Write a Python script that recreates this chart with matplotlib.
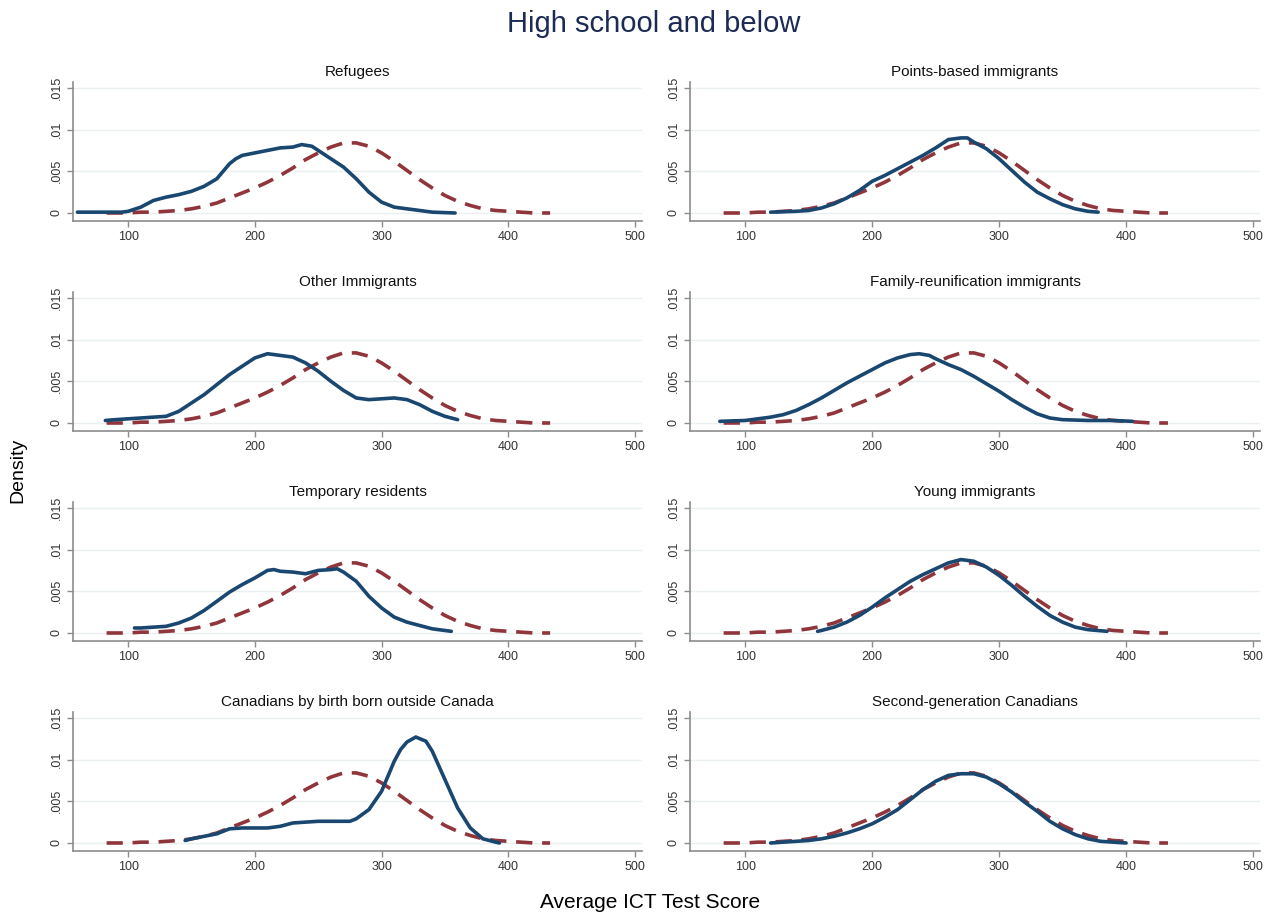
import numpy as np
import matplotlib
matplotlib.use("Agg")
import matplotlib.pyplot as plt

plt.rcParams['font.family'] = ['Liberation Sans Narrow', 'Liberation Sans', 'DejaVu Sans']

# reference curve (dashed red), same in every panel
ref_x = [83, 90, 100, 110, 120, 130, 140, 150, 160, 170, 180, 190, 200, 210, 220, 230, 240,
         250, 260, 270, 280, 290, 300, 310, 320, 330, 340, 350, 360, 370, 380, 390, 400,
         410, 420, 433]
ref_y = [0.0000, 0.0000, 0.0000, 0.0001, 0.0001, 0.0002, 0.0003, 0.0005, 0.0008, 0.0012,
         0.0018, 0.0024, 0.0030, 0.0037, 0.0045, 0.0054, 0.0064, 0.0072, 0.0079, 0.0084,
         0.0084, 0.0080, 0.0072, 0.0062, 0.0051, 0.0040, 0.0030, 0.0021, 0.0014, 0.0009,
         0.0005, 0.0003, 0.0002, 0.0001, 0.0000, 0.0000]

titles = ["Refugees", "Points-based immigrants", "Other Immigrants",
          "Family-reunification immigrants", "Temporary residents", "Young immigrants",
          "Canadians by birth born outside Canada", "Second-generation Canadians"]

refugees_x = [60, 80, 95, 100, 110, 120, 130, 140, 150, 160, 170, 180, 185, 190, 200, 210,
              220, 230, 237, 245, 250, 260, 270, 280, 290, 300, 310, 320, 330, 340, 358]
refugees_y = [0.0001, 0.0001, 0.0001, 0.0002, 0.0007, 0.0015, 0.0019, 0.0022, 0.0026,
              0.0032, 0.0041, 0.0059, 0.0065, 0.0069, 0.0072, 0.0075, 0.0078, 0.0079,
              0.0082, 0.0080, 0.0075, 0.0065, 0.0055, 0.0041, 0.0025, 0.0013, 0.0007,
              0.0005, 0.0003, 0.0001, 0.0000]

points_x = [120, 140, 150, 160, 170, 180, 190, 200, 210, 220, 230, 240, 250, 260, 270, 275,
            280, 290, 300, 310, 320, 330, 340, 350, 360, 370, 378]
points_y = [0.0001, 0.0002, 0.0003, 0.0006, 0.0011, 0.0018, 0.0027, 0.0038, 0.0045, 0.0053,
            0.0061, 0.0069, 0.0078, 0.0088, 0.0090, 0.0090, 0.0085, 0.0077, 0.0065, 0.0051,
            0.0037, 0.0025, 0.0017, 0.0010, 0.0005, 0.0002, 0.0001]

other_x = [82, 90, 100, 110, 120, 130, 140, 150, 160, 170, 180, 190, 200, 210, 220, 230,
           240, 250, 260, 270, 280, 290, 300, 310, 320, 330, 340, 350, 360]
other_y = [0.0003, 0.0004, 0.0005, 0.0006, 0.0007, 0.0008, 0.0014, 0.0024, 0.0034, 0.0046,
           0.0058, 0.0068, 0.0078, 0.0083, 0.0081, 0.0079, 0.0072, 0.0062, 0.0050, 0.0039,
           0.0030, 0.0028, 0.0029, 0.0030, 0.0028, 0.0022, 0.0014, 0.0008, 0.0004]

family_x = [80, 100, 110, 120, 130, 140, 150, 160, 170, 180, 190, 200, 210, 220, 230, 237,
            245, 250, 260, 270, 280, 290, 300, 310, 320, 330, 340, 350, 370, 390, 405]
family_y = [0.0002, 0.0003, 0.0005, 0.0007, 0.0010, 0.0015, 0.0022, 0.0030, 0.0039, 0.0048,
            0.0056, 0.0064, 0.0072, 0.0078, 0.0082, 0.0083, 0.0081, 0.0077, 0.0070, 0.0064,
            0.0056, 0.0047, 0.0038, 0.0028, 0.0019, 0.0011, 0.0006, 0.0004, 0.0003, 0.0003,
            0.0002]

temp_x = [105, 110, 120, 130, 140, 150, 160, 170, 180, 190, 200, 210, 215, 220, 230, 240,
          250, 260, 265, 270, 280, 290, 300, 310, 320, 330, 340, 355]
temp_y = [0.0006, 0.0006, 0.0007, 0.0008, 0.0012, 0.0018, 0.0027, 0.0038, 0.0049, 0.0058,
          0.0066, 0.0075, 0.0076, 0.0074, 0.0073, 0.0071, 0.0075, 0.0076, 0.0077, 0.0073,
          0.0062, 0.0044, 0.0030, 0.0019, 0.0013, 0.0009, 0.0005, 0.0002]

young_x = [157, 160, 170, 180, 190, 200, 210, 220, 230, 240, 250, 260, 270, 280, 290, 300,
           310, 320, 330, 340, 350, 360, 370, 385]
young_y = [0.0002, 0.0003, 0.0007, 0.0013, 0.0021, 0.0031, 0.0042, 0.0052, 0.0062, 0.0070,
           0.0077, 0.0084, 0.0088, 0.0086, 0.0079, 0.0069, 0.0057, 0.0044, 0.0032, 0.0021,
           0.0013, 0.0007, 0.0004, 0.0002]

outside_x = [145, 150, 160, 170, 180, 190, 200, 210, 220, 230, 240, 250, 260, 270, 275, 280,
             290, 300, 305, 310, 315, 320, 327, 335, 340, 350, 360, 370, 380, 390, 393]
outside_y = [0.0003, 0.0005, 0.0008, 0.0011, 0.0017, 0.0018, 0.0018, 0.0018, 0.0020, 0.0024,
             0.0025, 0.0026, 0.0026, 0.0026, 0.0026, 0.0029, 0.0040, 0.0062, 0.0080, 0.0098,
             0.0112, 0.0121, 0.0127, 0.0122, 0.0110, 0.0076, 0.0042, 0.0018, 0.0005, 0.0001,
             0.0000]

second_x = [120, 130, 140, 150, 160, 170, 180, 190, 200, 210, 220, 230, 240, 250, 260, 270,
            280, 290, 300, 310, 320, 330, 340, 350, 360, 370, 380, 390, 400]
second_y = [0.0000, 0.0001, 0.0002, 0.0003, 0.0005, 0.0008, 0.0012, 0.0017, 0.0023, 0.0031,
            0.0040, 0.0052, 0.0064, 0.0074, 0.0081, 0.0083, 0.0083, 0.0079, 0.0071, 0.0061,
            0.0049, 0.0038, 0.0026, 0.0017, 0.0010, 0.0005, 0.0002, 0.0001, 0.0000]

groups = [(refugees_x, refugees_y), (points_x, points_y), (other_x, other_y),
          (family_x, family_y), (temp_x, temp_y), (young_x, young_y),
          (outside_x, outside_y), (second_x, second_y)]

yticks = [0, 0.005, 0.01, 0.015]
ytick_labels = ["0", ".005", ".01", ".015"]
xticks = [100, 200, 300, 400, 500]

blue = '#1a476f'
red = '#90353b'
spine_col = '#8c8c8c'

W, H = 1270, 918
fig = plt.figure(figsize=(W / 100, H / 100), dpi=100)

col_left = [73, 690]
col_right = [642, 1260]
for i, (title, (gx, gy)) in enumerate(zip(titles, groups)):
    r, c = divmod(i, 2)
    top = 82 + 210 * r
    bot = 221 + 210 * r
    ax = fig.add_axes([col_left[c] / W, 1 - bot / H,
                       (col_right[c] - col_left[c]) / W, (bot - top) / H])
    ax.plot(gx, gy, color=blue, lw=2.6, solid_capstyle='round', zorder=3)
    ln, = ax.plot(ref_x, ref_y, color=red, lw=2.6, zorder=2)
    ln.set_dashes((4.5, 2.7))
    ax.set_xlim(56.5, 505.5)
    ax.set_ylim(-0.00096, 0.0157)
    ax.set_yticks(yticks)
    ax.set_yticklabels(ytick_labels, rotation=90, va='center')
    ax.set_xticks(xticks)
    ax.grid(axis='y', color='#eaf0f2', lw=1)
    ax.set_axisbelow(True)
    for s in ['top', 'right']:
        ax.spines[s].set_visible(False)
    for s in ['left', 'bottom']:
        ax.spines[s].set_color(spine_col)
        ax.spines[s].set_linewidth(1.2)
    ax.tick_params(colors=spine_col, labelcolor='#333333', labelsize=9, length=4, width=1)
    ax.set_title(title, fontsize=11, pad=4, color='#111111')

fig.text(0.515, 1 - 24 / H, "High school and below", ha='center', va='center',
         fontsize=21, color='#1c2b55', family=['Liberation Sans', 'DejaVu Sans'])
fig.text(18 / W, 1 - 470 / H, "Density", rotation=90, ha='center', va='center',
         fontsize=14, family=['Liberation Sans', 'DejaVu Sans'])
fig.text(650 / W, 1 - 902 / H, "Average ICT Test Score", ha='center', va='center',
         fontsize=15, family=['Liberation Sans', 'DejaVu Sans'])

fig.savefig("out.png", dpi=100, facecolor='white')
